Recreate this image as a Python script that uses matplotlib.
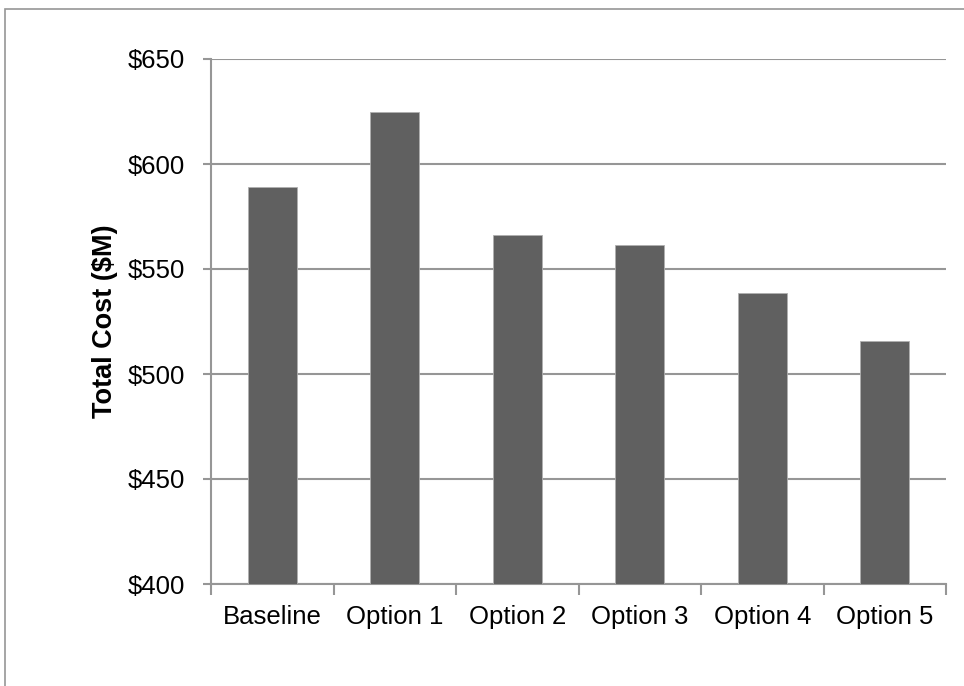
import matplotlib
matplotlib.use("Agg")
import matplotlib.pyplot as plt
from matplotlib.patches import Rectangle

# datos del grafico
categorias = ["Baseline", "Option 1", "Option 2", "Option 3", "Option 4", "Option 5"]
costos = [589, 624.6, 566.2, 561.3, 538.4, 515.9]
ticks_y = [400, 450, 500, 550, 600, 650]

plt.rcParams["font.family"] = ["Liberation Sans", "DejaVu Sans"]
gris = "#969696"

fig = plt.figure(figsize=(9.64, 6.86), dpi=100)
# marco exterior del grafico
fig.patches.append(Rectangle((5 / 964, -0.05), 1.1, (686 - 9) / 686 + 0.05,
                             transform=fig.transFigure, fill=False,
                             edgecolor=gris, linewidth=1.2))

ax = fig.add_axes([211 / 964, 1 - 584 / 686, (946 - 211) / 964, (584 - 59) / 686])
x = range(len(categorias))
ax.bar(x, costos, width=0.4, color="#606060", edgecolor="#b0b0b0", linewidth=0.6, zorder=3)

ax.set_ylim(400, 650)
ax.set_xlim(-0.5, len(categorias) - 0.5)
ax.set_yticks(ticks_y)
ax.set_yticklabels(["$%d" % v for v in ticks_y], fontsize=18.5)
ax.set_xticks(list(x))
ax.set_xticklabels(categorias, fontsize=18.5)
ax.tick_params(axis="x", length=0, pad=15)
ax.tick_params(axis="y", length=6, width=1.5, color=gris, pad=13)

# marcas entre categorias en el eje x
ax.set_xticks([i - 0.5 for i in range(len(categorias) + 1)], minor=True)
ax.tick_params(axis="x", which="minor", length=8, width=1.5, color=gris)

ax.grid(axis="y", color=gris, linewidth=1.5, zorder=0)
for lado in ["top", "right"]:
    ax.spines[lado].set_visible(False)
for lado in ["left", "bottom"]:
    ax.spines[lado].set_color(gris)
    ax.spines[lado].set_linewidth(1.5)

ax.set_ylabel("Total Cost ($M)", fontsize=19.5, fontweight="bold", labelpad=7)

fig.savefig("out.png", dpi=100)
